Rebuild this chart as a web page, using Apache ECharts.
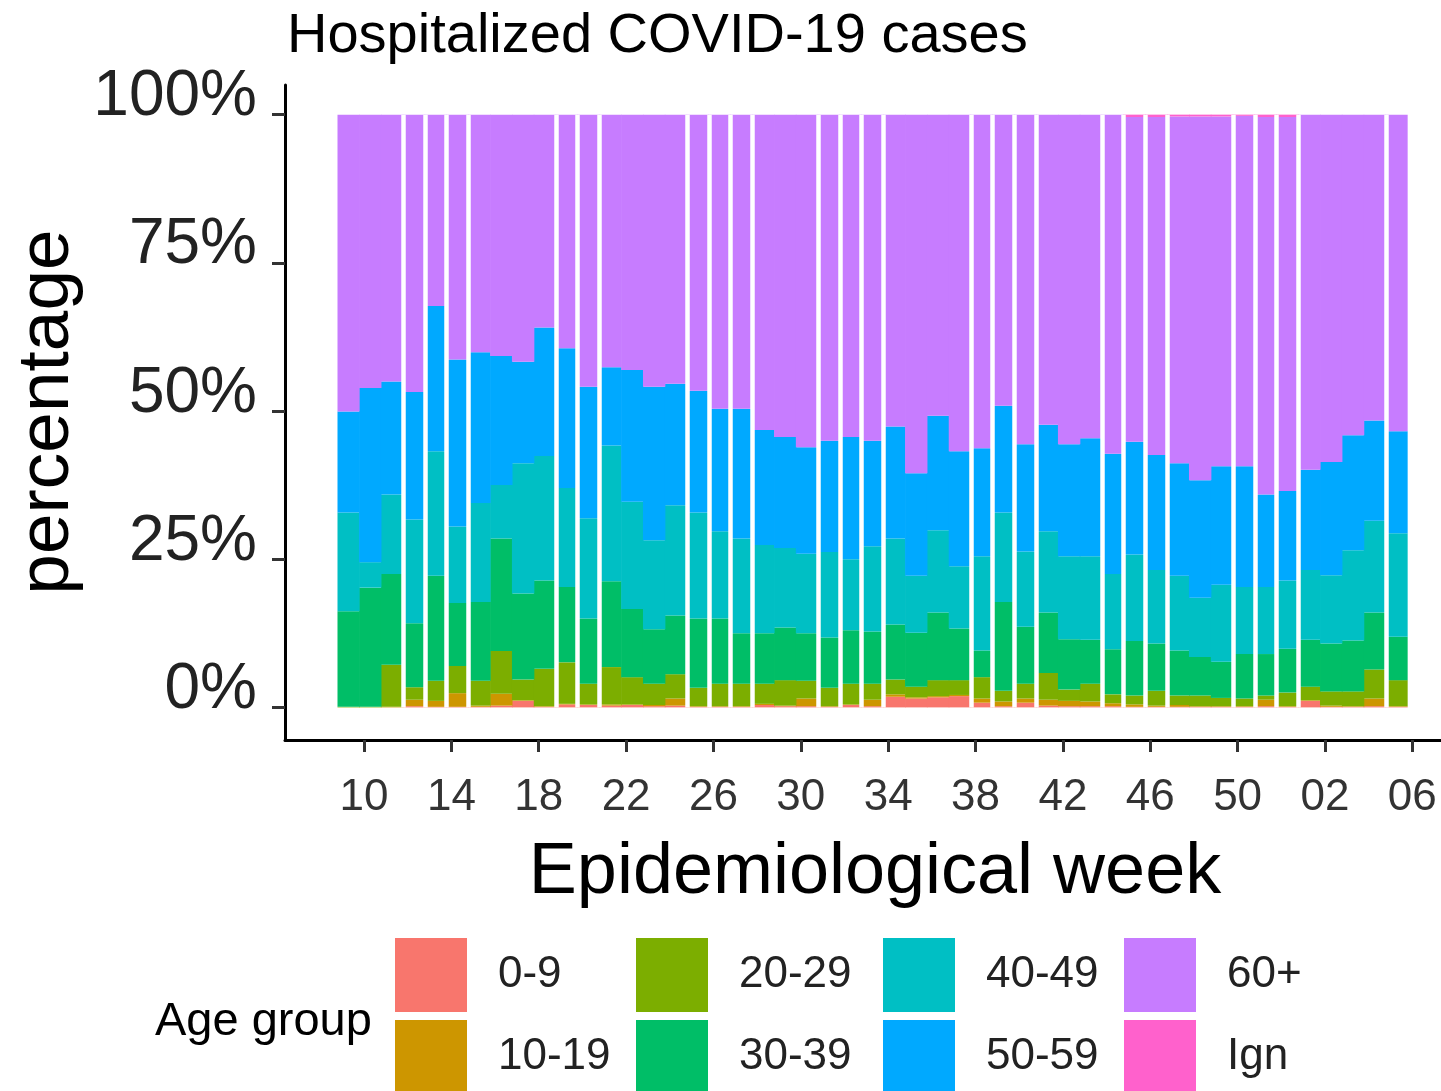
<!DOCTYPE html>
<html>
<head>
<meta charset="utf-8">
<title>Hospitalized COVID-19 cases</title>
<script src="https://cdn.jsdelivr.net/npm/echarts@6/dist/echarts.min.js"></script>
<style>
  html, body { margin: 0; padding: 0; background: #fff; }
  #chart { width: 1441px; height: 1091px; }
</style>
</head>
<body>
<div id="chart"></div>
<script>
// epidemiological weeks, one bar each (2020 wk 09 .. 2021 wk 05)
const weeks = ["09","10","11","12","13","14","15","16","17","18","19","20","21","22","23","24",
  "25","26","27","28","29","30","31","32","33","34","35","36","37","38","39","40","41","42",
  "43","44","45","46","47","48","49","50","51","52","01","02","03","04","05"];
const tickLabels = ["10","14","18","22","26","30","34","38","42","46","50","02","06"];

const ageGroups = ["0-9", "10-19", "20-29", "30-39", "40-49", "50-59", "60+", "Ign"];
const ageColors = ["#F8766D", "#CD9600", "#7CAE00", "#00BE67", "#00BFC4", "#00A9FF", "#C77CFF", "#FF61CC"];

// share of hospitalized cases per week, in %
const age0to9 = [0,0,0,0.2,0.1,0.1,0.1,0.3,1.1,0.1, 0.5,0.4,0.3,0.4,0.2,0.3,0.1,0.1,0.1,0.4,
  0.2,0.2,0.1,0.4,0.2,1.8,1.5,1.7,1.9,0.8, 0.2,0.8,0.3,0.2,0.2,0.2,0.1,0.1,0.1,0.1,
  0.1,0.1,0.2,0.1,1.1,0.1,0.1,0.2,0.1];
const age10to19 = [0,0,0.1,1.1,1.0,2.3,0.2,2.0,0.1,0.1, 0.1,0.1,0.2,0.1,0.2,1.2,0.1,0.1,0.1,0.2,
  0.1,1.3,0.1,0.1,1.1,0.4,0.2,0.2,0.2,0.7, 0.8,0.7,1.0,0.9,0.8,0.5,0.4,0.2,0.3,0.1,
  0.1,0.1,1.1,0.1,0.1,0.2,0.1,1.3,0.1];
const age20to29 = [0.1,0.1,7.1,2.1,3.4,4.6,4.2,7.2,3.5,6.3, 7.0,3.5,6.3,4.6,3.6,4.1,3.1,3.8,3.8,3.4,
  4.3,3.0,3.1,3.5,2.7,2.5,1.8,2.7,2.5,3.6, 1.8,2.5,4.5,1.9,3.0,1.5,1.5,2.5,1.6,1.8,
  1.4,1.3,0.7,2.3,2.3,2.4,2.5,4.9,4.4];
const age30to39 = [16.1,20.1,15.3,10.8,17.7,10.6,13.3,19.0,14.5,14.9, 12.7,11.0,14.5,11.5,9.2,9.9,11.7,11.0,8.5,8.5,
  8.9,8.0,8.5,9.0,8.8,9.3,9.1,11.4,8.7,4.5, 15.0,9.6,10.2,8.5,7.4,7.6,9.2,8.0,7.6,6.5,
  6.1,7.5,7.0,7.4,7.9,8.1,8.6,9.6,7.3];
const age40to49 = [16.7,4.3,13.4,17.5,21.0,12.9,16.7,9.0,22.0,21.0, 16.7,16.9,22.9,18.1,15.0,18.6,17.9,14.7,16.0,14.9,
  13.4,13.4,14.4,12.0,14.4,14.5,9.6,13.9,10.5,15.9, 15.1,12.7,13.7,14.0,14.1,12.7,14.6,12.4,12.6,10.0,
  13.0,11.3,11.3,11.5,11.8,11.5,15.2,15.5,17.5];
const age50to59 = [17.0,29.4,19.1,21.5,24.5,28.2,25.4,21.8,17.1,21.7, 23.6,22.2,13.2,22.2,25.9,20.5,20.5,20.7,21.9,19.4,
  18.7,18.0,18.8,20.6,17.8,18.9,17.3,19.3,19.4,18.2, 18.0,18.1,18.0,18.9,19.9,20.3,19.0,19.4,19.0,19.8,
  20.0,20.4,15.6,15.1,16.9,19.1,19.4,16.9,17.2];
const age60plus = [50.1,46.1,45.0,46.8,32.3,41.3,40.1,40.7,41.7,35.9, 39.4,45.9,42.6,43.1,45.9,45.4,46.6,49.6,49.6,53.2,
  54.4,56.1,55.0,54.4,55.0,52.6,60.5,50.8,56.8,56.3, 49.1,55.6,52.3,55.6,54.6,57.2,54.8,57.0,58.5,61.4,
  59.0,59.1,63.7,63.1,59.9,58.6,54.1,51.6,53.4];
const ageIgn = [0,0,0,0,0,0,0,0,0,0, 0,0,0,0,0,0,0,0,0,0,
  0,0,0,0,0,0,0,0,0,0, 0,0,0,0,0,0,0.4,0.4,0.3,0.3,
  0.3,0.2,0.4,0.4,0,0,0,0,0];

const ageValues = [age0to9, age10to19, age20to29, age30to39, age40to49, age50to59, age60plus, ageIgn];

// bars followed by a thin white seam in the original rendering
const seamAfter = [2,3,4,5, 9,10,11, 15,16,17,18, 21,22,23,24, 28,29,30,31, 34,35,36,37, 40,41,42,43, 47];

const FONT = "'Liberation Sans', Arial, sans-serif";
const BAND = 21.84;           // px per week
const PLOT_TOP = 85;
const PLOT_HEIGHT = 655;
const Y_MIN = -5.5;
const Y_MAX = 105;
const FRAME_LEFT = 285;
const BARS_LEFT = 337.5;
const TICK_SHIFT = -2 / 7;    // date breaks sit two days before the labelled week's bar

// frame axis works in "week index" units: bar i is centred on i
const frameMin = (FRAME_LEFT - BARS_LEFT) / BAND - 0.5;
const frameMax = frameMin + (1441 - FRAME_LEFT) / BAND;
const tickPos = tickLabels.map((_, k) => 1 + 4 * k + TICK_SHIFT);

function tickLabel(v) {
  const k = tickPos.findIndex((p) => Math.abs(p - v) < 0.01);
  return k >= 0 ? tickLabels[k] : "";
}

const series = ageGroups.map((name, s) => ({
  name,
  type: "bar",
  stack: "age",
  xAxisIndex: 0,
  yAxisIndex: 0,
  barWidth: 22.4,
  data: ageValues[s],
  itemStyle: { color: ageColors[s] },
  emphasis: { disabled: true },
}));

// seams live on the frame axes, which are continuous in week units
series.push({
  type: "line",
  xAxisIndex: 1,
  yAxisIndex: 1,
  data: [],
  silent: true,
  markLine: {
    silent: true,
    symbol: "none",
    label: { show: false },
    lineStyle: { color: "#ffffff", width: 4.5, type: "solid", opacity: 1 },
    emphasis: { disabled: true },
    data: seamAfter.map((i) => [{ coord: [i + 0.5, 0] }, { coord: [i + 0.5, 100] }]),
  },
});

const legendText = { fontSize: 44, color: "#222", fontFamily: FONT, padding: [16, 0, 0, 26] };
const legendCols = [["0-9", "10-19"], ["20-29", "30-39"], ["40-49", "50-59"], ["60+", "Ign"]];
const legendLeft = [395, 636, 883, 1124];

const chart = echarts.init(document.getElementById("chart"));

chart.setOption({
  animation: false,
  backgroundColor: "#fff",
  textStyle: { fontFamily: FONT },
  title: {
    text: "Hospitalized COVID-19 cases",
    left: 282,
    top: 4,
    textStyle: { fontSize: 56, fontWeight: "normal", color: "#000", fontFamily: FONT },
  },
  grid: [
    // bars
    { left: BARS_LEFT, width: BAND * weeks.length, top: PLOT_TOP, height: PLOT_HEIGHT, outerBoundsMode: "none" },
    // axis frame
    { left: FRAME_LEFT, right: 0, top: PLOT_TOP, height: PLOT_HEIGHT, outerBoundsMode: "none" },
  ],
  xAxis: [
    {
      gridIndex: 0,
      type: "category",
      data: weeks,
      show: false,
    },
    {
      gridIndex: 1,
      type: "value",
      min: frameMin,
      max: frameMax,
      splitLine: { show: false },
      axisLine: { show: true, onZero: false, lineStyle: { color: "#000", width: 3 } },
      axisTick: { show: true, customValues: tickPos, length: 12, lineStyle: { color: "#333", width: 3 } },
      axisLabel: {
        customValues: tickPos,
        formatter: tickLabel,
        fontSize: 44,
        color: "#333",
        margin: 36,
        fontFamily: FONT,
      },
    },
  ],
  yAxis: [
    { gridIndex: 0, type: "value", min: Y_MIN, max: Y_MAX, show: false },
    {
      gridIndex: 1,
      type: "value",
      min: Y_MIN,
      max: Y_MAX,
      splitLine: { show: false },
      axisLine: { show: true, onZero: false, lineStyle: { color: "#000", width: 3 } },
      axisTick: { show: true, customValues: [0, 25, 50, 75, 100], length: 13, lineStyle: { color: "#333", width: 3 } },
      axisLabel: {
        customValues: [0, 25, 50, 75, 100],
        formatter: "{v|{value}%}",
        margin: 28,
        rich: { v: { fontSize: 64, color: "#222", fontFamily: FONT, padding: [0, 0, 34, 0] } },
      },
    },
  ],
  legend: legendCols.map((items, c) => ({
    data: items,
    left: legendLeft[c],
    top: 938,
    height: 240,
    padding: 0,
    orient: "vertical",
    icon: "rect",
    itemWidth: 72,
    itemHeight: 74,
    itemGap: 8,
    selectedMode: false,
    textStyle: legendText,
  })),
  graphic: [
    {
      type: "text",
      x: 875,
      y: 873,
      style: { text: "Epidemiological week", fill: "#000", font: "72px " + FONT, align: "center", verticalAlign: "middle" },
    },
    {
      type: "text",
      x: 48,
      y: 412,
      rotation: Math.PI / 2,
      style: { text: "percentage", fill: "#000", font: "73px " + FONT, align: "center", verticalAlign: "middle" },
    },
    {
      type: "text",
      x: 155,
      y: 1022,
      style: { text: "Age group", fill: "#000", font: "47px " + FONT, align: "left", verticalAlign: "middle" },
    },
  ],
  series,
});

window.addEventListener("resize", () => chart.resize());
</script>
</body>
</html>
